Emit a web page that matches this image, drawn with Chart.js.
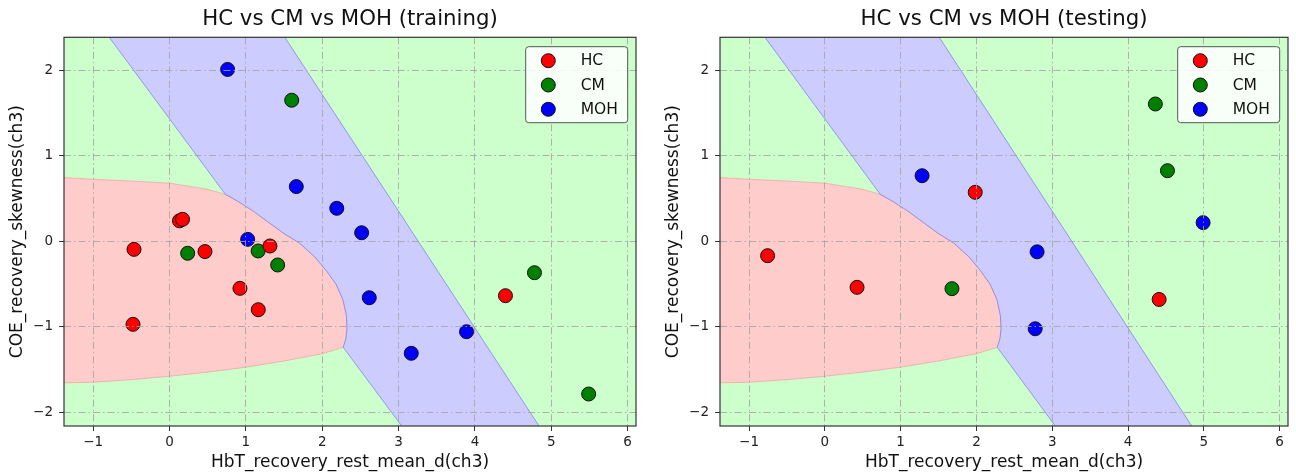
<!DOCTYPE html>
<html>
<head>
<meta charset="utf-8">
<script src="https://cdn.jsdelivr.net/npm/chart.js@4.4.1/dist/chart.umd.min.js"></script>
<style>
  html, body { margin: 0; padding: 0; background: #ffffff; }
  body { width: 1296px; height: 472px; position: relative; overflow: hidden; }
  canvas { position: absolute; top: 0; }
  #c1 { left: 0; }
  #c2 { left: 656px; }
</style>
</head>
<body>
<canvas id="c1" width="648" height="472"></canvas>
<canvas id="c2" width="640" height="472"></canvas>
<script>
// ---- class labels and colours ----
const CLASSES = ['HC', 'CM', 'MOH'];
const POINT_COLORS = ['#ff0000', '#008000', '#0000ff'];
const REGION_COLORS = ['#ffcccc', '#ccffcc', '#ccccff'];

// ---- axis ticks and limits ----
const X_TICKS = [-1, 0, 1, 2, 3, 4, 5, 6];
const Y_TICKS = [-2, -1, 0, 1, 2];
const X_LIMITS = [-1.383, 6.11];
const Y_LIMITS = [-2.16, 2.386];

// ---- training samples [HbT_recovery_rest_mean_d, COE_recovery_skewness] ----
const TRAIN_HC = [[0.13, 0.24], [0.17, 0.257], [-0.466, -0.094], [0.464, -0.12], [1.315, -0.055],
                  [0.922, -0.55], [1.162, -0.80], [-0.479, -0.971], [4.40, -0.636]];
const TRAIN_CM = [[1.60, 1.65], [0.237, -0.14], [1.16, -0.113], [1.416, -0.277], [4.78, -0.367], [5.49, -1.786]];
const TRAIN_MOH = [[0.76, 2.01], [1.66, 0.64], [2.19, 0.386], [2.516, 0.10], [1.023, 0.023],
                   [2.616, -0.66], [3.89, -1.057], [3.166, -1.31]];

// ---- testing samples ----
const TEST_HC = [[-0.755, -0.168], [0.425, -0.538], [1.984, 0.573], [4.41, -0.68]];
const TEST_CM = [[1.677, -0.554], [4.36, 1.606], [4.52, 0.826]];
const TEST_MOH = [[1.283, 0.767], [2.80, -0.123], [2.775, -1.023], [4.99, 0.218]];

// ---- decision regions of the classifier (feature space outlines) ----
// boundary shared by the HC and MOH regions
const HC_MOH_EDGE = [[0.73, 0.55], [0.9, 0.465], [1.1, 0.35], [1.3, 0.22], [1.5, 0.09], [1.7, -0.02],
                     [1.9, -0.18], [2.05, -0.34], [2.18, -0.5], [2.27, -0.68], [2.315, -0.86],
                     [2.325, -1.02], [2.31, -1.14], [2.275, -1.24]];
const HC_TOP_EDGE = [[-1.6, 0.755], [-1.383, 0.745], [-1.0, 0.725], [-0.5, 0.705], [0.0, 0.68], [0.49, 0.61]];
const HC_BOTTOM_EDGE = [[2.0, -1.315], [1.5, -1.40], [1.0, -1.472], [0.5, -1.53], [0.0, -1.578],
                        [-0.5, -1.618], [-1.0, -1.648], [-1.6, -1.66]];
const MOH_LEFT_TOP = [[-0.843, 2.45]];
const MOH_RIGHT_EDGE = [[3.115, -2.25], [4.906, -2.25], [1.463, 2.45]];

const HC_REGION = [...HC_TOP_EDGE, ...HC_MOH_EDGE, ...HC_BOTTOM_EDGE];
const MOH_REGION = [...MOH_LEFT_TOP, ...HC_MOH_EDGE, ...MOH_RIGHT_EDGE];

const FONT = "'DejaVu Sans', sans-serif";
const minus = v => String(v).replace('-', '\u2212');

// Filled decision regions behind the samples
const regionPlugin = {
  id: 'regions',
  beforeDatasetsDraw(chart) {
    const { ctx, chartArea: a, scales: { x, y } } = chart;
    ctx.save();
    ctx.beginPath();
    ctx.rect(a.left, a.top, a.width, a.height);
    ctx.clip();
    ctx.fillStyle = REGION_COLORS[1];
    ctx.fillRect(a.left, a.top, a.width, a.height);
    const poly = (pts, fill, stroke) => {
      ctx.beginPath();
      pts.forEach(([px, py], i) => {
        const X = x.getPixelForValue(px), Y = y.getPixelForValue(py);
        if (i === 0) ctx.moveTo(X, Y); else ctx.lineTo(X, Y);
      });
      ctx.closePath();
      ctx.fillStyle = fill;
      ctx.fill();
      ctx.lineWidth = 1;
      ctx.strokeStyle = stroke;
      ctx.stroke();
    };
    poly(HC_REGION, REGION_COLORS[0], 'rgba(240,150,150,0.6)');
    poly(MOH_REGION, REGION_COLORS[2], 'rgba(120,120,235,0.7)');
    ctx.restore();
  }
};

// Axes frame, panel title and the legend box
const framePlugin = {
  id: 'frame',
  afterDraw(chart) {
    const { ctx, chartArea: a } = chart;
    ctx.save();
    ctx.strokeStyle = '#333333';
    ctx.lineWidth = 1.2;
    ctx.strokeRect(a.left, a.top, a.width, a.height);

    ctx.fillStyle = '#111111';
    ctx.font = '21.3px ' + FONT;
    ctx.textAlign = 'center';
    ctx.textBaseline = 'middle';
    ctx.fillText(chart.options.panelTitle, (a.left + a.right) / 2, 19);

    const w = 102, h = 76, bx = a.right - 8.3 - w, by = a.top + 9.4;
    ctx.beginPath();
    ctx.roundRect(bx, by, w, h, 3);
    ctx.fillStyle = 'rgba(255,255,255,0.85)';
    ctx.fill();
    ctx.strokeStyle = '#555555';
    ctx.lineWidth = 1;
    ctx.stroke();
    ctx.font = '15.5px ' + FONT;
    ctx.textAlign = 'left';
    CLASSES.forEach((name, i) => {
      const cy = by + 14 + i * 24.3;
      ctx.beginPath();
      ctx.arc(bx + 22.6, cy, 7, 0, Math.PI * 2);
      ctx.fillStyle = POINT_COLORS[i];
      ctx.fill();
      ctx.strokeStyle = '#111111';
      ctx.stroke();
      ctx.fillStyle = '#111111';
      ctx.fillText(name, bx + 55, cy + 0.5);
    });
    ctx.restore();
  }
};

function makeChart(id, title, groups, padRight) {
  const toPts = arr => arr.map(([x, y]) => ({ x, y }));
  const gridOpts = { z: 1, color: 'rgba(165,165,165,0.85)', lineWidth: 1,
                     tickLength: 5, tickColor: '#333333', tickBorderDash: [], tickWidth: 1 };
  const borderOpts = { display: false, dash: [7, 3, 1.5, 3] };
  return new Chart(document.getElementById(id), {
    type: 'scatter',
    data: {
      datasets: groups.map((g, i) => ({
        label: CLASSES[i],
        data: toPts(g),
        backgroundColor: POINT_COLORS[i],
        borderColor: '#111111',
        borderWidth: 1,
        pointRadius: 7,
        pointHoverRadius: 7
      }))
    },
    options: {
      responsive: false,
      animation: false,
      devicePixelRatio: 1,
      panelTitle: title,
      layout: { padding: { top: 37.3, right: padRight, bottom: 0, left: 0 } },
      plugins: {
        legend: { display: false },
        tooltip: { enabled: false },
        title: { display: false }
      },
      scales: {
        x: {
          type: 'linear',
          min: X_LIMITS[0], max: X_LIMITS[1],
          afterFit: s => { s.height = 46; },
          afterBuildTicks: s => { s.ticks = X_TICKS.map(v => ({ value: v })); },
          ticks: { color: '#222222', font: { family: FONT, size: 13.5 }, padding: 3,
                   callback: v => minus(v), maxRotation: 0 },
          grid: gridOpts,
          border: borderOpts,
          title: { display: true, text: 'HbT_recovery_rest_mean_d(ch3)', color: '#111111',
                   font: { family: FONT, size: 17, lineHeight: 1.1 }, padding: { top: 0, bottom: 0 } }
        },
        y: {
          type: 'linear',
          min: Y_LIMITS[0], max: Y_LIMITS[1],
          afterFit: s => { s.width = 64; },
          afterBuildTicks: s => { s.ticks = Y_TICKS.map(v => ({ value: v })); },
          ticks: { color: '#222222', font: { family: FONT, size: 13.5 }, padding: 6,
                   callback: v => minus(v) },
          grid: gridOpts,
          border: borderOpts,
          title: { display: true, text: 'COE_recovery_skewness(ch3)', color: '#111111',
                   font: { family: FONT, size: 17, lineHeight: 1.1 }, padding: { top: 8, bottom: 0 } }
        }
      }
    },
    plugins: [regionPlugin, framePlugin]
  });
}

makeChart('c1', 'HC vs CM vs MOH (training)', [TRAIN_HC, TRAIN_CM, TRAIN_MOH], 12);
makeChart('c2', 'HC vs CM vs MOH (testing)', [TEST_HC, TEST_CM, TEST_MOH], 5);
</script>
</body>
</html>
